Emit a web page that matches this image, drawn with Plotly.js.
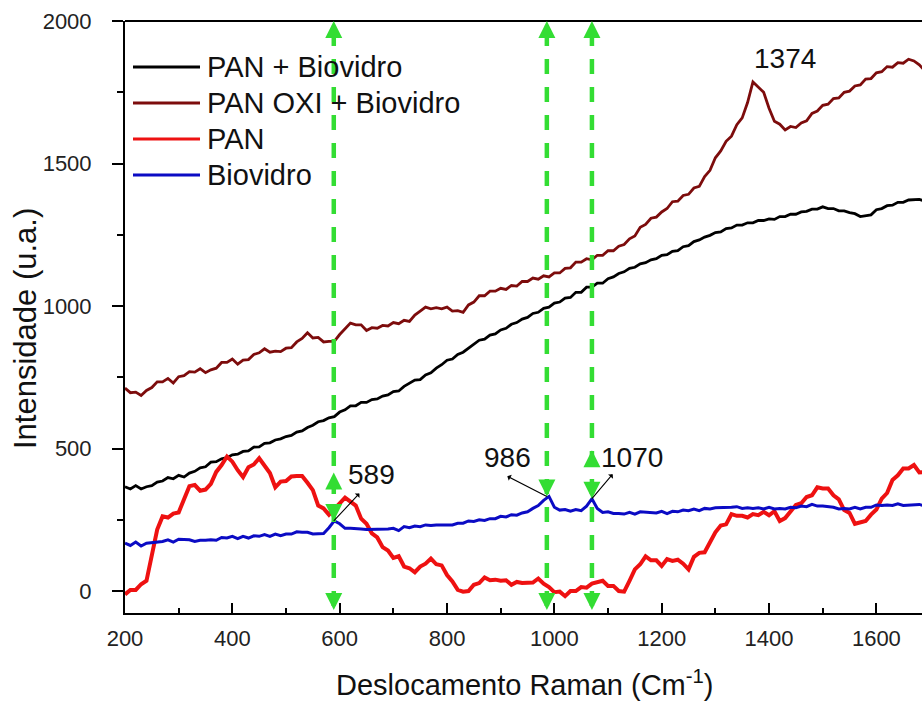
<!DOCTYPE html>
<html>
<head>
<meta charset="utf-8">
<script src="https://cdn.plot.ly/plotly-3.0.1.min.js"></script>
<style>
  html, body { margin: 0; padding: 0; background: #fff; }
  #chart { width: 922px; height: 704px; }
</style>
</head>
<body>
<div id="chart"></div>
<script>
// Raman shift grid (cm^-1)
const ramanShift = [
  200,210,220,230,240,250,260,270,280,290,
  300,310,320,330,340,350,360,370,380,390,
  400,410,420,430,440,450,460,470,480,490,
  500,510,520,530,540,550,560,570,580,590,
  600,610,620,630,640,650,660,670,680,690,
  700,710,720,730,740,750,760,770,780,790,
  800,810,820,830,840,850,860,870,880,890,
  900,910,920,930,940,950,960,970,980,990,
  1000,1010,1020,1030,1040,1050,1060,1070,1080,1090,
  1100,1110,1120,1130,1140,1150,1160,1170,1180,1190,
  1200,1210,1220,1230,1240,1250,1260,1270,1280,1290,
  1300,1310,1320,1330,1340,1350,1360,1370,1380,1390,
  1400,1410,1420,1430,1440,1450,1460,1470,1480,1490,
  1500,1510,1520,1530,1540,1550,1560,1570,1580,1590,
  1600,1610,1620,1630,1640,1650,1660,1670,1680,1690
];

// PAN + Biovidro
const panBiovidro = [
  366,358,370,358,366,370,382,386,398,394,
  406,400,414,420,432,436,452,454,464,468,
  478,480,490,492,505,506,518,520,530,534,
  542,546,558,562,574,582,594,598,608,612,
  628,636,650,650,662,662,672,674,684,688,
  700,702,718,728,740,742,758,766,782,794,
  810,814,830,838,852,864,880,884,898,902,
  916,922,936,942,954,960,974,978,992,996,
  1010,1014,1028,1030,1048,1048,1066,1066,1080,1080,
  1096,1102,1114,1120,1132,1136,1148,1152,1162,1166,
  1178,1180,1192,1194,1208,1212,1226,1232,1242,1248,
  1258,1260,1272,1274,1284,1284,1292,1292,1300,1300,
  1306,1304,1314,1314,1322,1322,1330,1332,1340,1340,
  1348,1342,1342,1334,1334,1328,1324,1314,1316,1320,
  1338,1342,1352,1354,1364,1364,1372,1372,1374,1368
];

// PAN OXI + Biovidro
const panOxiBiovidro = [
  712,696,698,686,704,714,734,734,746,730,
  752,756,770,768,780,766,776,782,802,802,
  814,796,810,812,830,836,850,838,842,840,
  852,854,874,886,906,888,890,874,876,876,
  900,922,940,934,934,914,924,922,932,930,
  942,938,950,946,968,982,996,990,994,990,
  996,982,984,978,1004,1014,1036,1036,1052,1052,
  1062,1058,1072,1070,1086,1086,1098,1094,1106,1102,
  1116,1116,1132,1134,1154,1154,1166,1162,1178,1178,
  1194,1194,1210,1216,1236,1246,1276,1286,1308,1312,
  1330,1342,1366,1368,1388,1392,1414,1420,1454,1476,
  1520,1544,1578,1596,1636,1660,1714,1786,1768,1750,
  1694,1648,1638,1618,1630,1626,1642,1650,1676,1684,
  1704,1708,1728,1730,1750,1754,1772,1776,1796,1798,
  1818,1822,1840,1838,1854,1852,1866,1860,1846,1826
];

// PAN
const pan = [
  -12,4,4,24,36,124,216,262,258,272,
  276,322,368,372,352,356,376,418,442,472,
  454,424,400,434,444,466,442,414,364,384,
  386,402,404,404,380,354,300,290,268,290,
  308,328,312,300,254,236,202,188,154,142,
  116,122,86,80,66,86,96,114,94,90,
  56,34,4,-2,0,22,28,48,38,40,
  36,38,22,32,28,30,30,44,26,14,
  -4,-2,-18,0,0,14,12,26,32,36,
  18,18,0,-2,36,76,94,122,108,108,
  88,112,106,110,96,76,120,134,136,172,
  206,230,234,270,264,264,258,270,266,278,
  266,280,246,256,282,302,308,330,336,364,
  360,360,336,322,284,274,236,240,246,268,
  286,324,344,390,406,430,430,442,416,418
];

// Biovidro
const biovidro = [
  168,160,172,158,168,170,172,174,180,172,
  182,180,180,174,178,178,180,178,188,186,
  192,184,192,186,194,192,198,192,200,194,
  200,200,208,206,206,200,202,202,222,246,
  236,220,220,220,218,216,216,216,218,218,
  220,212,226,222,228,226,232,230,232,232,
  234,232,238,238,246,244,250,248,254,254,
  262,260,268,266,274,278,290,300,318,332,
  294,284,286,280,286,282,298,324,290,276,
  278,272,272,270,276,270,278,276,276,274,
  280,272,280,278,284,282,288,282,290,288,
  292,292,294,294,296,290,292,290,292,288,
  294,288,290,288,294,292,298,296,304,298,
  298,296,294,288,290,288,294,288,294,294,
  302,300,302,300,306,300,302,302,304,298
];

const seriesNames = ['PAN + Biovidro', 'PAN OXI + Biovidro', 'PAN', 'Biovidro'];
const seriesData = [panBiovidro, panOxiBiovidro, pan, biovidro];
const seriesColors = ['#000000', '#7d0c0c', '#ee1111', '#0b0bc4'];
const seriesWidths = [2.8, 2.8, 4, 3];

// Biovidro band positions and the PAN OXI band
const biovidroBands = [589, 986, 1070];
const oxiBand = 1374;

const W = 922, H = 704;
const M = { l: 125, r: 0, t: 21, b: 91 };
const plotW = W - M.l - M.r, plotH = H - M.t - M.b;
const FONT = 'Arial, "Liberation Sans", sans-serif';
const GREEN = '#33dd33';

function nearestIndex(x) {
  let best = 0;
  for (let i = 1; i < ramanShift.length; i++) {
    if (Math.abs(ramanShift[i] - x) < Math.abs(ramanShift[best] - x)) best = i;
  }
  return best;
}
const pxToPaperX = px => (px - M.l) / plotW;
const pxToPaperY = py => (M.t + plotH - py) / plotH;

const traces = seriesData.map((ys, k) => ({
  x: ramanShift, y: ys, type: 'scatter', mode: 'lines',
  name: seriesNames[k], showlegend: false, hoverinfo: 'skip',
  line: { color: seriesColors[k], width: seriesWidths[k] }
}));

const shapes = [];
const annotations = [];

// top frame line
shapes.push({ type: 'line', xref: 'paper', yref: 'paper', x0: 0, x1: 1, y0: 1, y1: 1,
  line: { color: '#000', width: 2 } });

// legend block: sample line + label per series
const legRows = [67, 103, 139, 175];
seriesNames.forEach((name, k) => {
  const py = legRows[k];
  shapes.push({ type: 'line', xref: 'paper', yref: 'paper',
    x0: pxToPaperX(133), x1: pxToPaperX(200), y0: pxToPaperY(py), y1: pxToPaperY(py),
    line: { color: seriesColors[k], width: 3 } });
  annotations.push({ xref: 'paper', yref: 'paper', x: pxToPaperX(205), y: pxToPaperY(py),
    xanchor: 'left', yanchor: 'middle', text: name, showarrow: false,
    font: { family: FONT, size: 29, color: '#111' } });
});

// axis titles
annotations.push({ xref: 'paper', yref: 'paper', x: pxToPaperX(524), y: pxToPaperY(683),
  xanchor: 'center', yanchor: 'middle', showarrow: false,
  text: 'Deslocamento Raman (Cm<sup>-1</sup>)',
  font: { family: FONT, size: 29, color: '#111' } });
annotations.push({ xref: 'paper', yref: 'paper', x: pxToPaperX(25), y: pxToPaperY(328),
  xanchor: 'center', yanchor: 'middle', showarrow: false, textangle: -90,
  text: 'Intensidade (u.a.)',
  font: { family: FONT, size: 31, color: '#111' } });

// green dashed markers with arrow heads
const greenHead = (x, y, yref, ay) => ({
  x: x, y: y, xref: 'x', yref: yref, ax: 0, ay: ay, text: '', showarrow: true,
  arrowhead: 2, arrowsize: 0.85, arrowwidth: 4, arrowcolor: GREEN
});
const midUpHead = [true, false, true];
biovidroBands.forEach((b, k) => {
  shapes.push({ type: 'line', xref: 'x', yref: 'paper', x0: b, x1: b,
    y0: pxToPaperY(606), y1: 0.985,
    line: { color: GREEN, width: 4.5, dash: '15px,13px' } });
  annotations.push(greenHead(b, 1, 'paper', 17));
  annotations.push(greenHead(b, pxToPaperY(610), 'paper', -17));
  const peakVal = biovidro[nearestIndex(b)];
  annotations.push(greenHead(b, peakVal, 'y', -17));
  if (midUpHead[k]) annotations.push(greenHead(b, peakVal + 170, 'y', 17));
});

// band labels with thin black arrows
const labelArrow = [[27, -29], [-41, -21], [22, -26]];
const labelShift = [[38, 46], [-39, 39], [40, 41]];
biovidroBands.forEach((b, k) => {
  const peakVal = biovidro[nearestIndex(b)];
  annotations.push({ x: b, y: peakVal, xref: 'x', yref: 'y',
    ax: labelArrow[k][0], ay: labelArrow[k][1], text: '', showarrow: true,
    arrowside: 'start', arrowhead: 2, arrowsize: 2.6, arrowwidth: 1.1, arrowcolor: '#000' });
  annotations.push({ x: b, y: peakVal, xref: 'x', yref: 'y',
    xshift: labelShift[k][0], yshift: labelShift[k][1], text: String(b), showarrow: false,
    font: { family: FONT, size: 28, color: '#111' } });
});
annotations.push({ x: oxiBand, y: panOxiBiovidro[nearestIndex(oxiBand)], xref: 'x', yref: 'y',
  xshift: 30, yshift: 24, text: String(oxiBand), showarrow: false,
  font: { family: FONT, size: 28, color: '#111' } });

const layout = {
  width: W, height: H,
  margin: M,
  paper_bgcolor: '#fff', plot_bgcolor: '#fff',
  font: { family: FONT, color: '#111' },
  xaxis: {
    range: [200, 200 + plotW / 0.5367],
    tick0: 200, dtick: 200, ticks: 'inside', ticklen: 10, tickwidth: 2, tickcolor: '#000',
    minor: { dtick: 100, ticks: 'inside', ticklen: 5, tickwidth: 2, tickcolor: '#000' },
    showline: true, linewidth: 2, linecolor: '#000', mirror: false,
    showgrid: false, zeroline: false,
    tickfont: { family: FONT, size: 22, color: '#222' }, ticklabelstandoff: 5
  },
  yaxis: {
    range: [-77, 2000],
    tick0: 0, dtick: 500, ticks: 'outside', ticklen: 11, tickwidth: 2, tickcolor: '#000',
    minor: { dtick: 250, ticks: 'outside', ticklen: 6, tickwidth: 2, tickcolor: '#000' },
    showline: true, linewidth: 2, linecolor: '#000', mirror: false,
    showgrid: false, zeroline: false,
    tickfont: { family: FONT, size: 22, color: '#222' }, ticklabelstandoff: 16
  },
  shapes: shapes,
  annotations: annotations
};

Plotly.newPlot('chart', traces, layout, { displayModeBar: false, staticPlot: true });
</script>
</body>
</html>
